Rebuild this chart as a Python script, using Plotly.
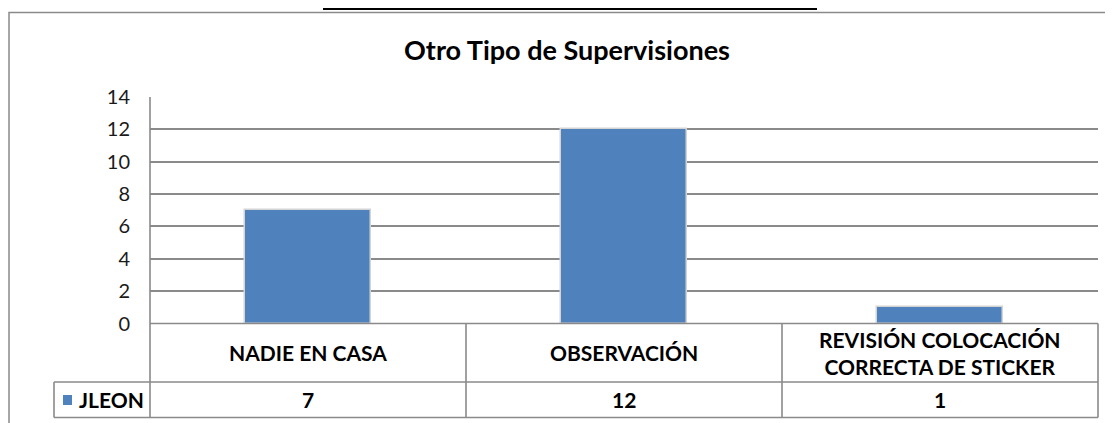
import plotly.graph_objects as go

# datos del gráfico
categorias = ['NADIE EN CASA', 'OBSERVACIÓN', 'REVISIÓN COLOCACIÓN<br>CORRECTA DE STICKER']
serie = 'JLEON'
valores = [7, 12, 1]
ticks_y = [0, 2, 4, 6, 8, 10, 12, 14]

W, H = 1113, 423
OFF = 8  # margen que pone el body de la página html
fuente = 'Lato'
azul = '#4F81BD'
gris = '#8a8a8a'

# posiciones medidas en píxeles de la imagen -> coordenadas paper
def px_x(v):
    return (v - OFF) / W

def px_y(v):
    return 1 - (v - OFF) / H

pos = list(range(len(categorias)))

fig = go.Figure()
fig.add_trace(go.Bar(
    x=pos, y=valores, name=serie, width=0.396,
    marker=dict(color=azul, line=dict(color='#d4d4d4', width=1.5)),
    showlegend=False, hoverinfo='y'
))

fig.update_layout(
    width=W, height=H,
    margin=dict(l=0, r=0, t=0, b=0, autoexpand=False),
    paper_bgcolor='white', plot_bgcolor='white',
    font=dict(family=fuente, size=15, color='#1a1a1a'),
    bargap=0,
    title=dict(text='Otro Tipo de Supervisiones', x=px_x(567), y=px_y(51),
               xanchor='center', yanchor='middle', automargin=False,
               font=dict(family=fuente, size=27, weight=700, color='#000000')),
    xaxis=dict(domain=[px_x(150), px_x(1098)], range=[-0.5, len(categorias) - 0.5],
               showticklabels=False, showgrid=False, zeroline=False,
               showline=False, fixedrange=True, automargin=False),
    yaxis=dict(domain=[px_y(323.5), px_y(97)], range=[0, 14], tickvals=ticks_y,
               showgrid=True, gridcolor=gris, gridwidth=1.6,
               zeroline=False, showline=False, automargin=False,
               ticks='', ticklabelstandoff=19,
               tickfont=dict(family=fuente, size=20, color='#1a1a1a')),
)

# encabezado recortado arriba
fig.add_annotation(text='DETALLE: OTRO TIPO DE SUPERVISIONES', xref='paper', yref='paper',
                   x=px_x(570), y=px_y(9), xanchor='center', yanchor='bottom',
                   showarrow=False,
                   font=dict(family=fuente, size=23, weight=700, color='#000000'))
fig.add_shape(type='line', xref='paper', yref='paper', x0=px_x(323), x1=px_x(817),
              y0=px_y(9), y1=px_y(9), line=dict(color='black', width=2))

# marco del gráfico
fig.add_shape(type='rect', xref='paper', yref='paper', x0=px_x(9), x1=px_x(1130),
              y0=px_y(450), y1=px_y(12.5), line=dict(color='#8a8a8a', width=1.5))

# tabla de datos
lineas = dict(color=gris, width=1.6)
y_cab, y_val, y_fin = 323.5, 382, 417.5
fig.add_shape(type='line', xref='paper', yref='paper', x0=px_x(150), x1=px_x(1098),
              y0=px_y(y_cab), y1=px_y(y_cab), line=lineas)
for yy in (y_val, y_fin):
    fig.add_shape(type='line', xref='paper', yref='paper', x0=px_x(54), x1=px_x(1098),
                  y0=px_y(yy), y1=px_y(yy), line=lineas)
fig.add_shape(type='line', xref='paper', yref='paper', x0=px_x(150), x1=px_x(150),
              y0=px_y(97), y1=px_y(y_fin), line=lineas)
fig.add_shape(type='line', xref='paper', yref='paper', x0=px_x(54), x1=px_x(54),
              y0=px_y(y_val), y1=px_y(y_fin), line=lineas)
fig.add_shape(type='line', xref='paper', yref='paper', x0=px_x(1098), x1=px_x(1098),
              y0=px_y(y_cab), y1=px_y(y_fin), line=lineas)
for b in [p + 0.5 for p in pos[:-1]]:
    fig.add_shape(type='line', xref='x', yref='paper', x0=b, x1=b,
                  y0=px_y(y_cab), y1=px_y(y_fin), line=lineas)

fuente_tabla = dict(family=fuente, size=21, weight=700, color='#000000')
for p, cat, val in zip(pos, categorias, valores):
    fig.add_annotation(text=cat, xref='x', yref='paper', x=p, y=px_y((y_cab + y_val) / 2),
                       showarrow=False, xanchor='center', yanchor='middle',
                       font=fuente_tabla)
    fig.add_annotation(text=str(val), xref='x', yref='paper', x=p, y=px_y((y_val + y_fin) / 2),
                       showarrow=False, xanchor='center', yanchor='middle',
                       font=fuente_tabla)

# clave de la serie
fig.add_shape(type='rect', xref='paper', yref='paper', x0=px_x(63), x1=px_x(72),
              y0=px_y(405), y1=px_y(395), line=dict(width=0), fillcolor=azul)
fig.add_annotation(text=serie, xref='paper', yref='paper',
                   x=px_x(77), y=px_y((y_val + y_fin) / 2), showarrow=False,
                   xanchor='left', yanchor='middle', font=fuente_tabla)

fig.write_html('out.html')
